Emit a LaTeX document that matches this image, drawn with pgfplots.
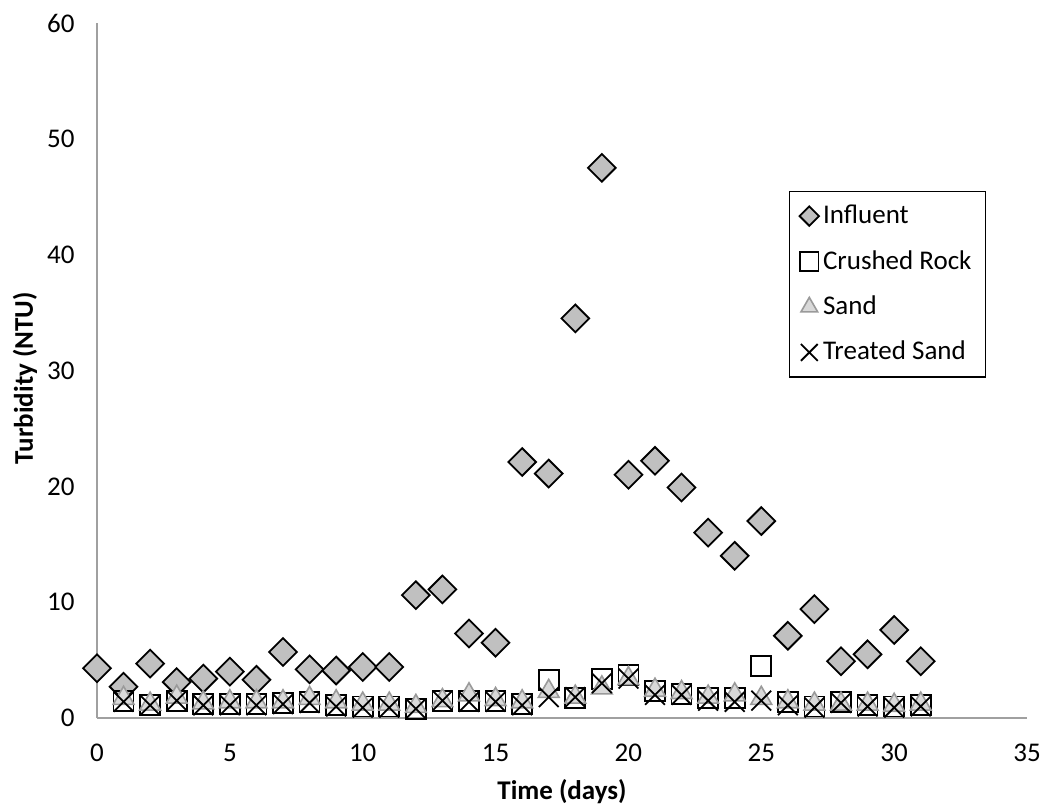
\documentclass[border=0pt]{standalone}
\usepackage{pgfplots}
\pgfplotsset{compat=1.18}
\usepackage{fontspec}
\setmainfont{Carlito}
\definecolor{axisgray}{HTML}{A0A0A0}
\definecolor{infl}{HTML}{C0C0C0}
\definecolor{sandfill}{HTML}{D9D9D9}
\definecolor{sandedge}{HTML}{9A9A9A}
\newcommand\chartfont{\fontsize{13.5pt}{16pt}\selectfont}

\begin{document}
\chartfont
\begin{tikzpicture}
\begin{axis}[
  name=main,
  scale only axis,
  width=465pt, height=347.5pt,
  xmin=0, xmax=35, ymin=0, ymax=60,
  xtick={0,5,...,35}, ytick={0,10,...,60},
  axis x line*=bottom, axis y line*=left,
  axis line style={axisgray, line width=0.8pt, -},
  major tick length=0pt,
  /pgf/number format/assume math mode=true,
  tick label style={font=\chartfont},
  xticklabel style={anchor=center, inner sep=0pt, yshift=-17.5pt},
  yticklabel style={anchor=east, inner sep=0pt, xshift=-11pt},
  xlabel={\textbf{Time (days)}},
  ylabel={\textbf{Turbidity (NTU)}},
  label style={font=\chartfont},
  xlabel style={at={(axis description cs:0.5,-0.1065)}, anchor=center},
  ylabel style={at={(axis description cs:-0.0774,0.489)}, anchor=center},
  clip=false,
  legend cell align=left,
  legend style={at={(0.7441,0.7583)}, anchor=north west,
    draw=black, line width=0.6pt, fill=white,
    font=\chartfont,
    inner xsep=5pt, inner ysep=4.5pt, row sep=7.2pt,
    /tikz/every odd column/.append style={inner sep=0pt, column sep=0pt},
    /tikz/every even column/.append style={inner sep=0pt, text height=9.5pt, text depth=3pt}},
  legend image code/.code={\draw[#1] plot coordinates {(0pt,0pt)};},
]
% Influent
\addplot[only marks, mark=square*, mark size=4.9pt,
  mark options={rotate=45, fill=infl, draw=black, line width=0.9pt},
  legend image post style={every mark/.append style={scale=0.7}}]
coordinates {
(0,4.3)(1,2.7)(2,4.7)(3,3.1)(4,3.4)(5,4.0)(6,3.3)(7,5.7)(8,4.2)(9,4.1)
(10,4.4)(11,4.4)(12,10.6)(13,11.1)(14,7.3)(15,6.5)(16,22.1)(17,21.1)(18,34.5)(19,47.5)
(20,21.0)(21,22.2)(22,19.9)(23,16.0)(24,14.0)(25,17.0)(26,7.1)(27,9.4)(28,4.9)(29,5.5)
(30,7.6)(31,4.9)};
\addlegendentry{Influent}
% Crushed rock
\addplot[only marks, mark=square, mark size=5pt,
  mark options={draw=black, line width=0.9pt},
  legend image post style={every mark/.append style={scale=0.92}}]
coordinates {
(1,1.5)(2,1.1)(3,1.5)(4,1.2)(5,1.2)(6,1.2)(7,1.3)(8,1.4)(9,1.1)(10,1.0)
(11,1.0)(12,0.8)(13,1.5)(14,1.5)(15,1.5)(16,1.2)(17,3.3)(18,1.7)(19,3.4)(20,3.7)
(21,2.3)(22,2.1)(23,1.7)(24,1.7)(25,4.5)(26,1.4)(27,1.0)(28,1.4)(29,1.1)(30,1.0)
(31,1.1)};
\addlegendentry{Crushed Rock}
% Sand
\addplot[only marks, mark=triangle*, mark size=6pt,
  mark options={fill=sandfill, draw=sandedge, line width=0.8pt},
  legend image post style={every mark/.append style={scale=0.8}}]
coordinates {
(1,1.7)(2,1.2)(3,1.8)(4,1.3)(5,1.4)(6,1.4)(7,1.4)(8,1.7)(9,1.4)(10,1.2)
(11,1.2)(12,1.0)(13,1.5)(14,2.0)(15,1.6)(16,1.4)(17,2.3)(18,1.8)(19,2.6)(20,3.4)
(21,2.4)(22,2.2)(23,1.8)(24,2.0)(25,1.7)(26,1.4)(27,1.2)(28,1.2)(29,1.2)(30,1.1)
(31,1.2)};
\addlegendentry{Sand}
% Treated sand
\addplot[only marks, mark=x, mark size=7pt,
  mark options={draw=black, line width=0.9pt},
  legend image post style={every mark/.append style={scale=0.85}}]
coordinates {
(1,1.4)(2,1.1)(3,1.5)(4,1.1)(5,1.1)(6,1.1)(7,1.2)(8,1.3)(9,1.0)(10,0.9)
(11,0.9)(12,0.8)(13,1.5)(14,1.4)(15,1.4)(16,1.1)(17,1.8)(18,1.8)(19,3.0)(20,3.4)
(21,2.0)(22,2.0)(23,1.5)(24,1.4)(25,1.5)(26,1.1)(27,0.9)(28,1.3)(29,1.0)(30,0.9)
(31,1.0)};
\addlegendentry{Treated Sand}
\end{axis}
% page area: fixed margins around the plot area
\pgfresetboundingbox
\useasboundingbox ([shift={(-48.5pt,-43pt)}]main.south west)
  rectangle ([shift={(8.5pt,11.5pt)}]main.north east);
\end{tikzpicture}
\end{document}
